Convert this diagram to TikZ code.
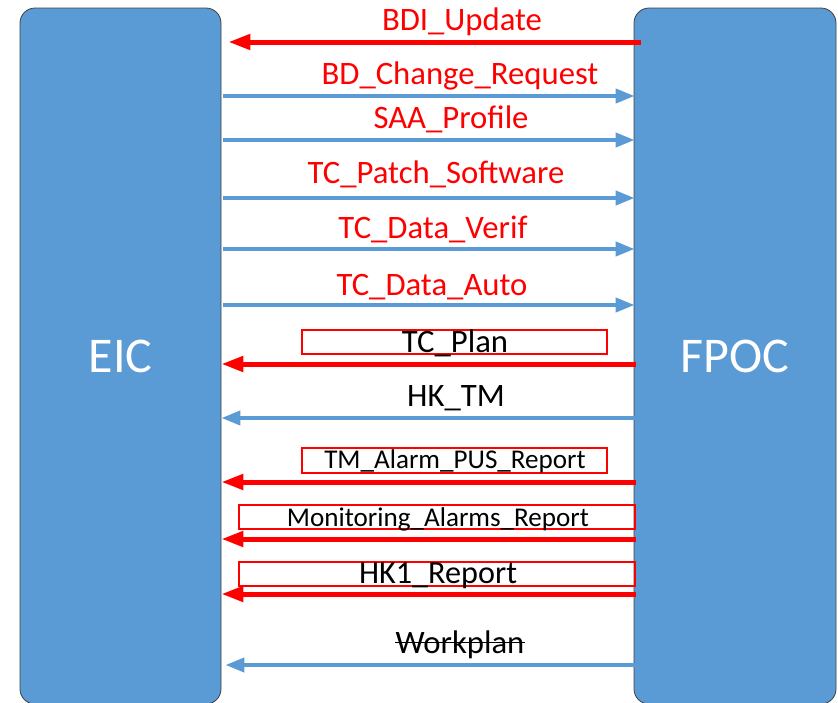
\documentclass[tikz,border=0pt]{standalone}
\usepackage{fontspec}
\setmainfont{Carlito}
\usetikzlibrary{arrows.meta}
\definecolor{boxblue}{HTML}{5B9BD5}
\definecolor{msgred}{HTML}{FF0000}
\begin{document}
\begin{tikzpicture}[x=1pt,y=-1pt,
  party/.style={draw=black!75, line width=0.8pt, fill=boxblue, rounded corners=15pt,
    minimum height=696pt, inner sep=0pt, text=white, font=\fontsize{50}{58}\selectfont},
  redmsg/.style={draw=msgred, line width=5pt, -{Triangle[length=22pt,width=15pt]}},
  bluemsg/.style={draw=boxblue, line width=4pt, -{Triangle[length=19pt,width=14pt]}},
  redlbl/.style={anchor=base, text=msgred, inner sep=0pt, font=\fontsize{32.7}{38}\selectfont},
  blklbl/.style={anchor=base, text=black, inner sep=0pt, font=\fontsize{32.7}{38}\selectfont},
  smalllbl/.style={blklbl, font=\fontsize{27.1}{32}\selectfont},
  framebox/.style={draw=msgred, line width=1.2pt, inner sep=0pt}
]
\clip (0,0) rectangle (838,702);

% the two parties
\node[party, minimum width=201pt] (EIC) at (120.5,356) {EIC};
\node[party, minimum width=202pt] (FPOC) at (735,356) {FPOC};

% messages from EIC to FPOC and back
\node[redlbl] (l1) at (462,30) {BDI\_Update};
\draw[redmsg] ([xshift=7pt]FPOC.west |- 0,42) -- ([xshift=7pt]EIC.east |- 0,42);

\node[redlbl] (l2) at (460,84) {BD\_Change\_Request};
\draw[bluemsg] ([xshift=2pt]EIC.east |- 0,96) -- ([xshift=1pt]FPOC.west |- 0,96);

\node[redlbl] (l3) at (451,128) {SAA\_Profile};
\draw[bluemsg] ([xshift=2pt]EIC.east |- 0,140) -- ([xshift=1pt]FPOC.west |- 0,140);

\node[redlbl] (l4) at (436,183) {TC\_Patch\_Software};
\draw[bluemsg] ([xshift=2pt]EIC.east |- 0,198) -- ([xshift=1pt]FPOC.west |- 0,198);

\node[redlbl] (l5) at (433,238) {TC\_Data\_Verif};
\draw[bluemsg] ([xshift=2pt]EIC.east |- 0,249) -- ([xshift=1pt]FPOC.west |- 0,249);

\node[redlbl] (l6) at (432,295) {TC\_Data\_Auto};
\draw[bluemsg] ([xshift=2pt]EIC.east |- 0,305) -- ([xshift=1pt]FPOC.west |- 0,305);

\node[framebox, minimum width=305pt, minimum height=24pt] (b7) at (454.5,342) {};
\node[blklbl] (l7) at (455,352) {TC\_Plan};
\draw[redmsg] ([xshift=2pt]FPOC.west |- 0,364) -- (EIC.east |- 0,364);

\node[blklbl] (l8) at (456,406) {HK\_TM};
\draw[bluemsg] ([xshift=2pt]FPOC.west |- 0,418) -- (EIC.east |- 0,418);

\node[framebox, minimum width=305pt, minimum height=25pt] (b9) at (454.5,460.5) {};
\node[smalllbl] (l9) at (455,468) {TM\_Alarm\_PUS\_Report};
\draw[redmsg] ([xshift=2pt]FPOC.west |- 0,482) -- (EIC.east |- 0,482);

\node[framebox, minimum width=396pt, minimum height=24pt] (b10) at (437,517) {};
\node[smalllbl] (l10) at (438,526) {Monitoring\_Alarms\_Report};
\draw[redmsg] ([xshift=2pt]FPOC.west |- 0,539) -- (EIC.east |- 0,539);

\node[framebox, minimum width=396pt, minimum height=24pt] (b11) at (437,574) {};
\node[blklbl, font=\fontsize{32.2}{38}\selectfont] (l11) at (438,583) {HK1\_Report};
\draw[redmsg] ([xshift=2pt]FPOC.west |- 0,594) -- (EIC.east |- 0,594);

\node[blklbl] (l12) at (460,653) {Workplan};
\draw[line width=1.6pt] ([yshift=10.5pt]l12.base west) -- ([yshift=10.5pt]l12.base east);
\draw[bluemsg] ([xshift=2pt]FPOC.west |- 0,665) -- ([xshift=4pt]EIC.east |- 0,665);
\end{tikzpicture}
\end{document}
